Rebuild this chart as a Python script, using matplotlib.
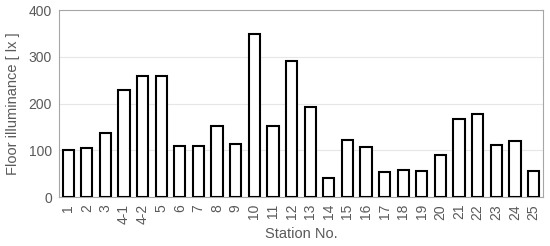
import numpy as np
import matplotlib
matplotlib.use("Agg")
import matplotlib.pyplot as plt

plt.rcParams["font.family"] = ["Liberation Sans", "DejaVu Sans"]

stations = ["1", "2", "3", "4-1", "4-2", "5", "6", "7", "8", "9", "10", "11", "12",
            "13", "14", "15", "16", "17", "18", "19", "20", "21", "22", "23", "24", "25"]
illuminance = [100, 105, 138, 230, 260, 259, 109, 109, 153, 113, 348, 153, 292,
               192, 41, 123, 108, 53, 58, 56, 89, 168, 178, 112, 119, 56]

text_col = "#595959"

fig = plt.figure(figsize=(5.5, 2.46), dpi=100)
ax = fig.add_axes([0.107, 0.199, 0.880, 0.760])

x = np.arange(len(stations))
ax.bar(x, illuminance, width=0.6, facecolor="white", edgecolor="black", linewidth=1.5, zorder=3)

ax.set_xlim(-0.5, len(stations) - 0.5)
ax.set_ylim(0, 400)
ax.set_yticks([0, 100, 200, 300, 400])
ax.set_xticks(x)
ax.set_xticklabels(stations, rotation=90)
ax.tick_params(length=0, labelsize=10, colors=text_col, pad=5)
ax.yaxis.grid(True, color="#e6e6e6", linewidth=0.8, zorder=0)
for s in ax.spines.values():
    s.set_color("#a6a6a6")
    s.set_linewidth(0.8)

ax.set_xlabel("Station No.", fontsize=10.5, color=text_col, labelpad=2)
ax.set_ylabel("Floor illuminance [ lx ]", fontsize=10.5, color=text_col, labelpad=6)

fig.savefig("out.png", dpi=100)
